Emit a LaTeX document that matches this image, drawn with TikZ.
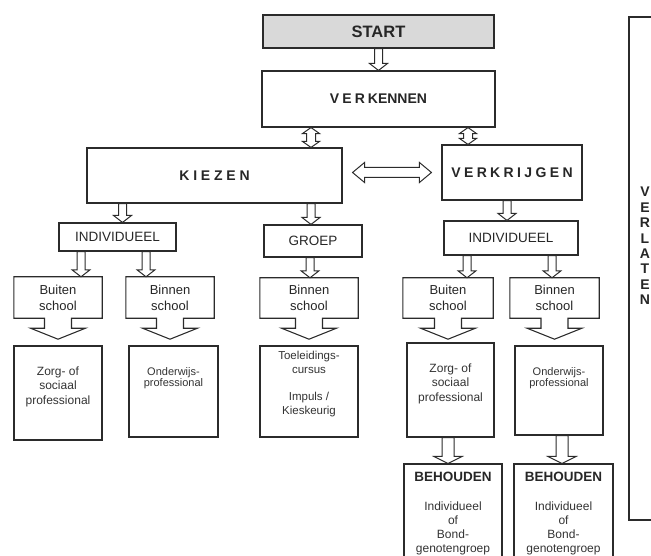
\documentclass[tikz,border=0pt]{standalone}
\usepackage{fontspec}
\setmainfont{Liberation Sans}
\usetikzlibrary{calc, positioning}

\definecolor{lijn}{HTML}{2B2B2B}
\definecolor{startgrijs}{HTML}{D9D9D9}

\tikzset{
  box/.style={draw=lijn, line width=1.1pt, rectangle, inner sep=0pt, text=black!85},
  kop/.style={font=\fontsize{14}{16}\selectfont\bfseries},
  gewoon/.style={font=\fontsize{13.5}{16}\selectfont},
  pijlbox/.style={rectangle, inner sep=0pt, align=center, text=black!85,
    font=\fontsize{13}{16}\selectfont, minimum height=40pt},
  txt/.style={inner sep=0pt, align=center, text=black!80, font=\fontsize{12}{14.5}\selectfont},
  kleintxt/.style={inner sep=0pt, align=center, text=black!80, font=\fontsize{11}{11.5}\selectfont},
  rand/.style={draw=lijn, line width=1.1pt, line join=miter},
  blk/.style={draw=lijn, line width=1pt, fill=white,
    to path={let \p1=(\tikztostart), \p2=(\tikztotarget) in
      (\x1-4pt,\y1) -- (\x1-4pt,\y2+7pt) -- (\x1-9pt,\y2+7pt) -- (\x1,\y2)
      -- (\x1+9pt,\y2+7pt) -- (\x1+4pt,\y2+7pt) -- (\x1+4pt,\y1) -- cycle}},
  blkbreed/.style={draw=lijn, line width=1pt, fill=white,
    to path={let \p1=(\tikztostart), \p2=(\tikztotarget) in
      (\x1-6pt,\y1) -- (\x1-6pt,\y2+7pt) -- (\x1-14pt,\y2+7pt) -- (\x1,\y2)
      -- (\x1+14pt,\y2+7pt) -- (\x1+6pt,\y2+7pt) -- (\x1+6pt,\y1) -- cycle}},
  dblv/.style={draw=lijn, line width=1pt, fill=white,
    to path={let \p1=(\tikztostart), \p2=(\tikztotarget) in
      (\x1,\y1) -- (\x1+8.5pt,\y1-6pt) -- (\x1+4.5pt,\y1-6pt) -- (\x1+4.5pt,\y2+6pt)
      -- (\x1+8.5pt,\y2+6pt) -- (\x1,\y2) -- (\x1-8.5pt,\y2+6pt) -- (\x1-4.5pt,\y2+6pt)
      -- (\x1-4.5pt,\y1-6pt) -- (\x1-8.5pt,\y1-6pt) -- cycle}},
  dblh/.style={draw=lijn, line width=1pt, fill=white,
    to path={let \p1=(\tikztostart), \p2=(\tikztotarget) in
      (\x1,\y1) -- (\x1+12pt,\y1+10pt) -- (\x1+12pt,\y1+5pt) -- (\x2-12pt,\y1+5pt)
      -- (\x2-12pt,\y1+10pt) -- (\x2,\y1) -- (\x2-12pt,\y1-10pt) -- (\x2-12pt,\y1-5pt)
      -- (\x1+12pt,\y1-5pt) -- (\x1+12pt,\y1-10pt) -- cycle}}
}

\newcommand{\pijlrand}[1]{%
  \draw[rand] (#1.north west) -- (#1.north east) -- (#1.south east)
    -- ([xshift=13.5pt]#1.south) -- ([xshift=13.5pt,yshift=-10pt]#1.south)
    -- ([xshift=27.5pt,yshift=-10pt]#1.south) -- ([yshift=-21pt]#1.south)
    -- ([xshift=-27.5pt,yshift=-10pt]#1.south) -- ([xshift=-13.5pt,yshift=-10pt]#1.south)
    -- ([xshift=-13.5pt]#1.south) -- (#1.south west) -- cycle;}

\begin{document}
\begin{tikzpicture}[x=1pt, y=-1pt]
    \useasboundingbox (0,0) rectangle (651,556);

    \node[box, fill=startgrijs, minimum width=231pt, minimum height=33pt, font=\fontsize{16.5}{18}\selectfont\bfseries] (start) at (378.5,31.5) {START};
    \node[box, kop, minimum width=233pt, minimum height=56pt] (verkennen) at (378.5,99) {{\addfontfeature{LetterSpace=22}VERK}ENNEN};
    \node[box, kop, minimum width=255pt, minimum height=55pt] (kiezen) at (214.5,175.5) {\addfontfeature{LetterSpace=27}KIEZEN\hspace{-3.8pt}};
    \node[box, kop, minimum width=140pt, minimum height=55pt] (verkrijgen) at (512,172.5) {\addfontfeature{LetterSpace=24}VERKRIJGEN\hspace{-3.4pt}};

    \node[box, gewoon, minimum width=117pt, minimum height=28pt] (indivL) at (117.5,237) {INDIVIDUEEL};
    \node[box, gewoon, minimum width=98pt, minimum height=32pt] (groep) at (313,241) {GROEP};
    \node[box, gewoon, minimum width=134pt, minimum height=34pt] (indivR) at (511,238) {INDIVIDUEEL};

    \node[pijlbox, minimum width=88pt, minimum height=41pt] (buitenL) at (58,297.5) {Buiten\\school};
    \node[pijlbox, minimum width=88pt, minimum height=41pt] (binnenL) at (170,297.5) {Binnen\\school};
    \node[pijlbox, minimum width=98pt] (binnenG) at (309,298) {Binnen\\school};
    \node[pijlbox, minimum width=90pt] (buitenR) at (448,298) {Buiten\\school};
    \node[pijlbox, minimum width=89pt] (binnenR) at (554.5,298) {Binnen\\school};
    \pijlrand{buitenL}
    \pijlrand{binnenL}
    \pijlrand{binnenG}
    \pijlrand{buitenR}
    \pijlrand{binnenR}

    \node[box, minimum width=88pt, minimum height=94pt] (zorgL) at (58,393) {};
    \node[box, minimum width=89pt, minimum height=91pt] (onderwijsL) at (173.5,391.5) {};
    \node[box, minimum width=98pt, minimum height=91pt] (toeleiding) at (309,391.5) {};
    \node[box, minimum width=87pt, minimum height=94pt] (zorgR) at (450.5,390) {};
    \node[box, minimum width=88pt, minimum height=89pt] (onderwijsR) at (559,390.5) {};
    \node[txt] (zorgLtekst) at ([yshift=-41pt]zorgL.north) {Zorg- of\\sociaal\\professional};
    \node[kleintxt] (onderwijsLtekst) at ([yshift=-32.5pt]onderwijsL.north) {Onderwijs-\\professional};
    \node[txt, font=\fontsize{11.5}{14}\selectfont] (toeleidingtekst) at ([yshift=-38.5pt]toeleiding.north) {Toeleidings-\\cursus\\[13pt]Impuls /\\Kieskeurig};
    \node[txt] (zorgRtekst) at ([yshift=-41pt]zorgR.north) {Zorg- of\\sociaal\\professional};
    \node[kleintxt] (onderwijsRtekst) at ([yshift=-32.5pt]onderwijsR.north) {Onderwijs-\\professional};

    \node[box, minimum width=98pt, minimum height=104pt] (behoudenL) at (453,516) {};
    \node[box, minimum width=99pt, minimum height=104pt] (behoudenR) at (563.5,516) {};
    \node[box, font=\fontsize{13.5}{16}\selectfont\bfseries, draw=none] (behoudenLkop) at ([yshift=-13pt]behoudenL.north) {BEHOUDEN};
    \node[box, font=\fontsize{13.5}{16}\selectfont\bfseries, draw=none] (behoudenRkop) at ([yshift=-13pt]behoudenR.north) {BEHOUDEN};
    \node[txt, font=\fontsize{12}{14}\selectfont] (behoudenLtekst) at ([yshift=-65pt]behoudenL.north) {Individueel\\of\\Bond-\\genotengroep};
    \node[txt, font=\fontsize{12}{14}\selectfont] (behoudenRtekst) at ([yshift=-65pt]behoudenR.north) {Individueel\\of\\Bond-\\genotengroep};

    \node[box, minimum width=31pt, minimum height=503pt] (verlaten) at (644.5,268.5) {};
    \node[txt, text=black!85, font=\fontsize{14}{15.4}\selectfont\bfseries] (verlatentekst) at (645,246) {V\\E\\R\\L\\A\\T\\E\\N};

    \draw[blk] (start.south) to (verkennen.north);
    \draw[dblv] ([xshift=-67.5pt]verkennen.south) to (kiezen.north);
    \draw[dblv] ([xshift=89.5pt]verkennen.south) to (verkrijgen.north);
    \draw[dblh] ($(kiezen.east |- verkrijgen.west)+(10,0)$) to ($(verkrijgen.west)+(-10,0)$);
    \draw[blk] ($(indivL.north |- kiezen.south)+(5,0)$) to (indivL.north);
    \draw[blk] ($(groep.north |- kiezen.south)+(-2,0)$) to (groep.north);
    \draw[blk] ($(verkrijgen.south)+(-5,0)$) to (indivR.north);
    \draw[blk] ($(buitenL.north |- indivL.south)+(23,0)$) to (buitenL.north);
    \draw[blk] ($(binnenL.north |- indivL.south)+(-24,0)$) to (binnenL.north);
    \draw[blk] ($(binnenG.north |- groep.south)+(1,0)$) to (binnenG.north);
    \draw[blk] ($(buitenR.north |- indivR.south)+(19,0)$) to (buitenR.north);
    \draw[blk] ($(binnenR.north |- indivR.south)+(-2.5,0)$) to (binnenR.north);
    \draw[blkbreed] ($(zorgR.south)+(-2.5,0)$) to (behoudenL.north);
    \draw[blkbreed] ($(onderwijsR.south)+(3,0)$) to (behoudenR.north);
\end{tikzpicture}
\end{document}
